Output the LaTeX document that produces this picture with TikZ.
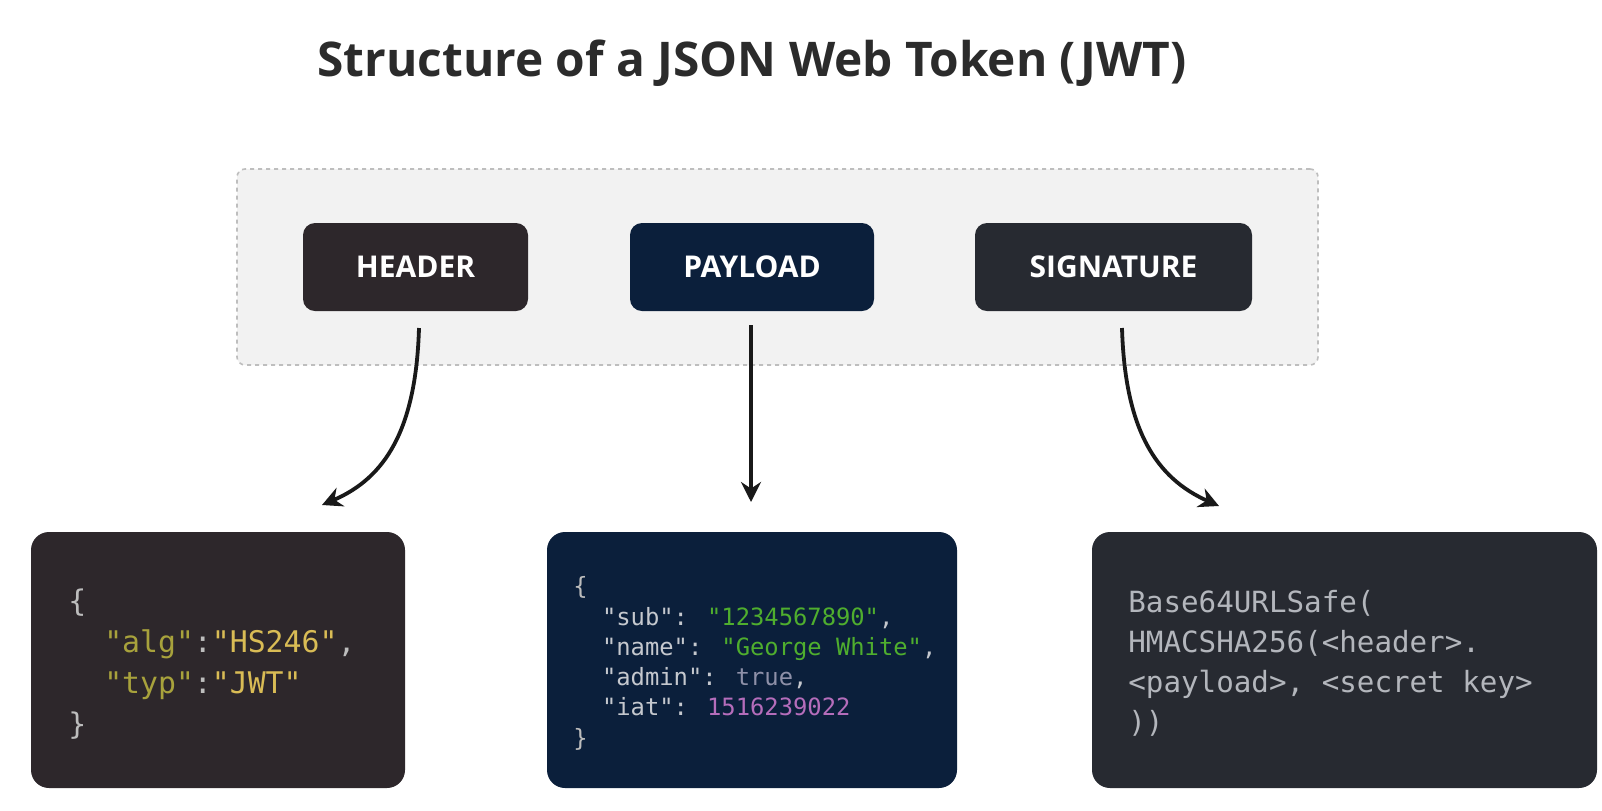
\documentclass[tikz,border=0pt]{standalone}
\usepackage{fontspec}
\setmainfont{Open Sans}
\newfontfamily\codefont{DejaVu Sans Mono}
\usetikzlibrary{arrows.meta}
\definecolor{titlec}{HTML}{2B2B2B}
\definecolor{contfill}{HTML}{F2F2F2}
\definecolor{contdraw}{HTML}{BEBEBE}
\definecolor{hdrbg}{HTML}{2D272B}
\definecolor{paybg}{HTML}{0B1F3B}
\definecolor{sigbg}{HTML}{272A31}
\definecolor{hkey}{HTML}{A8A23C}
\definecolor{hval}{HTML}{D9BC55}
\definecolor{punct}{HTML}{BDBDBD}
\definecolor{pkey}{HTML}{C5C8CE}
\definecolor{pstr}{HTML}{4FAE2E}
\definecolor{ptrue}{HTML}{8E90A8}
\definecolor{pnum}{HTML}{B56DBB}
\definecolor{sigtext}{HTML}{B3B6BC}
\newcommand\codeL{\codefont\fontsize{14.9}{18}\selectfont}
\newcommand\codeM{\codefont\fontsize{11.9}{14}\selectfont}
\newcommand\codeR{\codefont\fontsize{14.6}{18}\selectfont}
\newcommand\twosp{\phantom{00}}
\tikzset{
  container/.style={fill=contfill, draw=contdraw, line width=0.8pt, dash pattern=on 2pt off 2pt, rounded corners=4pt, minimum width=540.5pt, minimum height=98pt, inner sep=0},
  lbl/.style={rounded corners=6pt, minimum height=44pt, text=white, font=\fontsize{15}{18}\selectfont\bfseries, inner sep=0},
  codebox/.style={rounded corners=9pt, minimum height=128pt, inner sep=0},
  cline/.style={anchor=base west, inner sep=0, text=punct},
  arr/.style={line width=1.9pt, draw=black!90, -{Stealth[length=10pt,width=10pt]}}
}
\begin{document}
\begin{tikzpicture}[x=0.5pt,y=-0.5pt]
\useasboundingbox (0,0) rectangle (1602,810);
\node[anchor=base, text=titlec, font=\fontsize{23.9}{28}\selectfont\bfseries] (title) at (752,76) {Structure of a JSON Web Token (JWT)};
\node[container] (cont) at (777.5,267) {};
\node[lbl, fill=hdrbg, minimum width=112.5pt] (hdr) at (415.5,267) {HEADER};
\node[lbl, fill=paybg, minimum width=122pt] (pay) at (752,267) {PAYLOAD};
\node[lbl, fill=sigbg, minimum width=138.5pt] (sig) at (1113.5,267) {SIGNATURE};
\node[codebox, fill=hdrbg, minimum width=187pt] (hcode) at (218,660) {};
\node[codebox, fill=paybg, minimum width=205pt] (pcode) at (752,660) {};
\node[codebox, fill=sigbg, minimum width=252.5pt] (scode) at (1344.5,660) {};
% header code
\node[cline, font=\codeL] (h1) at (68,611) {\{};
\node[cline, font=\codeL] (h2) at (68,652) {\twosp\textcolor{hkey}{"alg"}:\textcolor{hval}{"HS246"},};
\node[cline, font=\codeL] (h3) at (68,693) {\twosp\textcolor{hkey}{"typ"}:\textcolor{hval}{"JWT"}};
\node[cline, font=\codeL] (h4) at (68,734) {\}};
% payload code
\node[cline, font=\codeM] (p1) at (573,594) {\{};
\node[cline, font=\codeM, text=pkey] (p2) at (573,625) {\twosp"sub": \textcolor{pstr}{"1234567890"},};
\node[cline, font=\codeM, text=pkey] (p3) at (573,655) {\twosp"name": \textcolor{pstr}{"George White"},};
\node[cline, font=\codeM, text=pkey] (p4) at (573,685) {\twosp"admin": \textcolor{ptrue}{true},};
\node[cline, font=\codeM, text=pkey] (p5) at (573,715) {\twosp"iat": \textcolor{pnum}{1516239022}};
\node[cline, font=\codeM] (p6) at (573,746) {\}};
% signature code
\node[cline, font=\codeR, text=sigtext] (s1) at (1128,612) {Base64URLSafe(};
\node[cline, font=\codeR, text=sigtext] (s2) at (1128,652) {HMACSHA256(<header>.};
\node[cline, font=\codeR, text=sigtext] (s3) at (1128,692) {<payload>, <secret key>};
\node[cline, font=\codeR, text=sigtext] (s4) at (1128,732) {))};
% arrows
\coordinate (a1s) at (419,328);
\coordinate (a1e) at (322,505);
\coordinate (a2s) at (751,325);
\coordinate (a2e) at (751,502);
\coordinate (a3s) at (1122,328);
\coordinate (a3e) at (1219,506);
\draw[arr] (a1s) .. controls (416,430) and (385,478) .. (a1e);
\draw[arr] (a2s) -- (a2e);
\draw[arr] (a3s) .. controls (1125,430) and (1156,478) .. (a3e);
\end{tikzpicture}
\end{document}
